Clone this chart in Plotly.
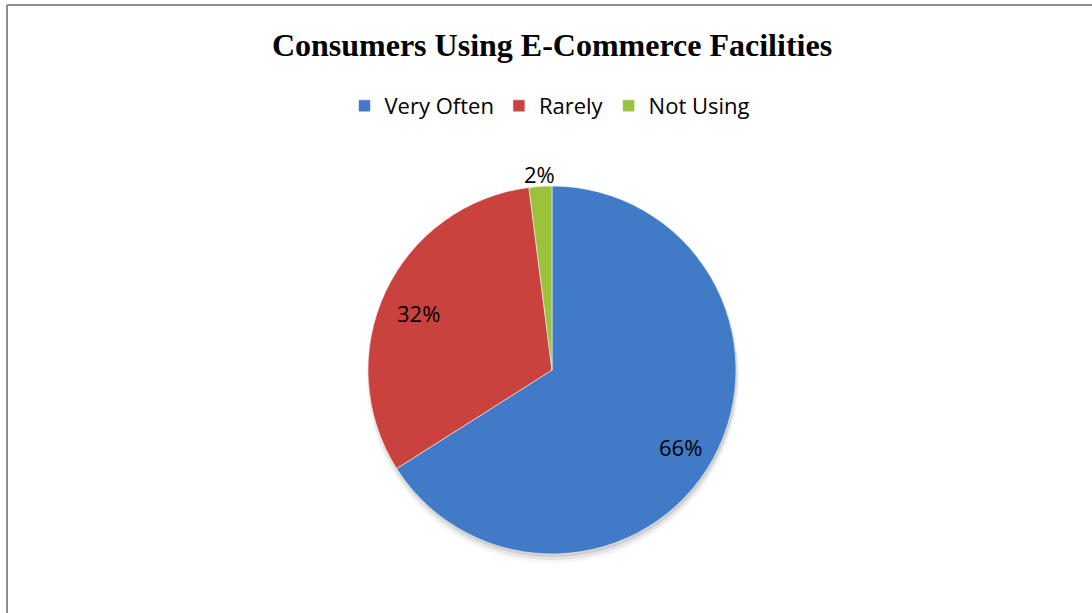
import math
import plotly.graph_objects as go

# Survey shares (percent) per usage group
categories = ["Very Often", "Rarely", "Not Using"]
shares = [66, 32, 2]
slice_colors = ["#417AC7", "#C9423D", "#9BC23D"]

title_text = "Consumers Using E-Commerce Facilities"

# Canvas and pie geometry (pixels, origin top-left)
W, H = 1092, 613
cx, cy, r = 552, 370, 184


def px_x(x):
    return x / W


def px_y(y):
    return 1 - y / H


fig = go.Figure()

fig.add_trace(
    go.Pie(
        labels=categories,
        values=shares,
        sort=False,
        direction="clockwise",
        rotation=0,
        textinfo="none",
        hoverinfo="label+percent",
        marker=dict(colors=slice_colors,
                    line=dict(color="rgba(255,255,255,0.55)", width=1)),
        domain=dict(x=[px_x(cx - r), px_x(cx + r)],
                    y=[px_y(cy + r), px_y(cy - r)]),
    )
)

# Percentage labels placed at each slice's mid-angle
total = sum(shares)
annotations = []
cum = 0
for v in shares:
    mid = math.radians((cum + v / 2) / total * 360)
    cum += v
    inside = v / total >= 0.05
    f = 0.80 if inside else 1.07
    lx = cx + f * r * math.sin(mid)
    ly = cy - f * r * math.cos(mid)
    annotations.append(dict(
        x=px_x(lx), y=px_y(ly), xref="paper", yref="paper",
        text=f"{v}%", showarrow=False,
        xanchor="center", yanchor="middle",
        yshift=-6 if inside else 0,
        font=dict(family="Open Sans", size=22, color="#000000"),
    ))

# Soft drop shadow under the pie
shapes = []
for dy, grow, op in [(7, 2, 0.06), (5, 1, 0.10), (3, 0, 0.16)]:
    shapes.append(dict(
        type="circle", xref="paper", yref="paper", layer="below",
        x0=px_x(cx - r - grow + 1), x1=px_x(cx + r + grow + 1),
        y0=px_y(cy + r + grow + dy), y1=px_y(cy - r - grow + dy),
        fillcolor=f"rgba(90,90,90,{op})", line=dict(width=0),
    ))

# Frame lines along the top and left edges
shapes.append(dict(type="line", xref="paper", yref="paper",
                   x0=px_x(7), x1=1.0, y0=px_y(5), y1=px_y(5),
                   line=dict(color="#8E8E8E", width=2)))
shapes.append(dict(type="line", xref="paper", yref="paper",
                   x0=px_x(7), x1=px_x(7), y0=px_y(5), y1=0.0,
                   line=dict(color="#8E8E8E", width=2)))

fig.update_layout(
    width=W, height=H,
    margin=dict(l=0, r=0, t=0, b=0),
    paper_bgcolor="#FFFFFF",
    plot_bgcolor="#FFFFFF",
    title=dict(
        text=title_text,
        x=px_x(552), xanchor="center",
        y=px_y(45), yanchor="middle",
        font=dict(family="Liberation Serif, Times New Roman, serif",
                  size=32, color="#000000", weight="bold"),
    ),
    legend=dict(
        orientation="h",
        x=px_x(550), xanchor="center",
        y=px_y(106), yanchor="middle",
        font=dict(family="Open Sans", size=22, color="#000000"),
        bgcolor="rgba(0,0,0,0)",
    ),
    annotations=annotations,
    shapes=shapes,
)

fig.write_html("out.html")
